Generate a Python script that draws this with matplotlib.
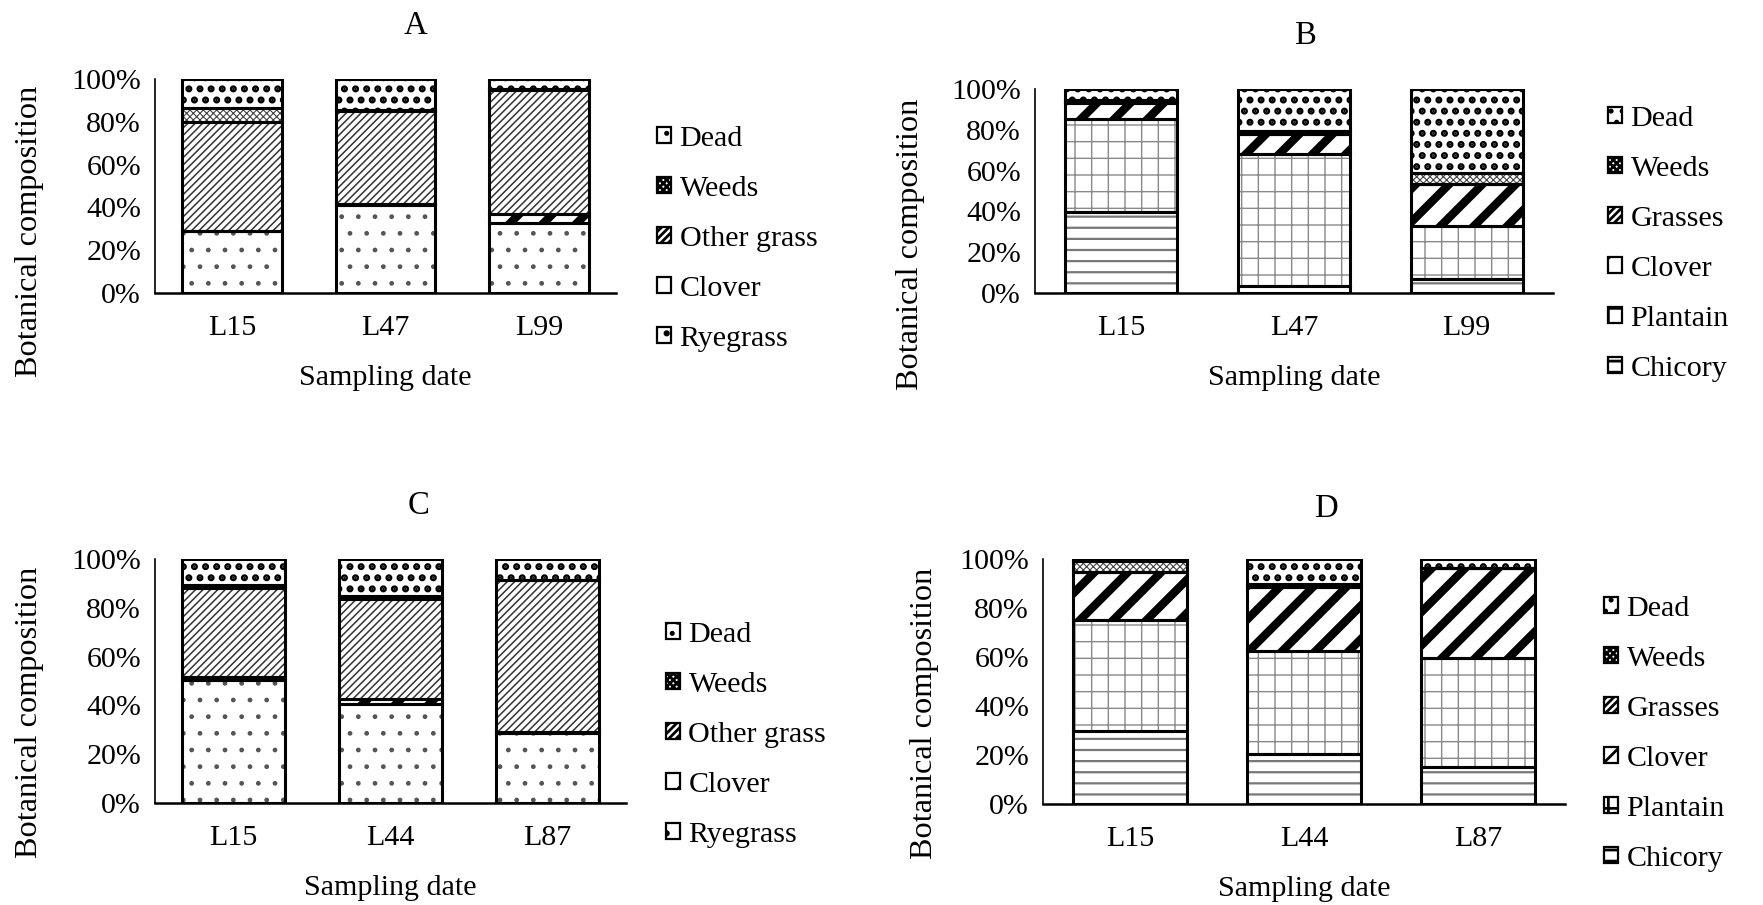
import numpy as np
import matplotlib.pyplot as plt
from matplotlib.patches import Patch
from matplotlib.ticker import PercentFormatter

plt.rcParams['font.family'] = ['Liberation Serif', 'DejaVu Serif']
plt.rcParams['font.size'] = 10.8

# ---- data (% of botanical composition) ----
dates_a = ['L15', 'L47', 'L99']
ryegrass_a = [29.0, 41.0, 32.5]
clover_a = [0.0, 0.5, 4.5]
other_grass_a = [51.0, 43.5, 58.0]
weeds_a = [6.5, 0.5, 0.5]
dead_a = [13.5, 14.5, 4.5]

dates_b = ['L15', 'L47', 'L99']
chicory_b = [39.5, 3.5, 7.0]
plantain_b = [46.0, 64.5, 26.0]
clover_b = [7.5, 10.0, 20.5]
grasses_b = [0.5, 0.0, 0.0]
weeds_b = [1.0, 1.5, 5.5]
dead_b = [5.5, 20.5, 41.0]

dates_c = ['L15', 'L44', 'L87']
ryegrass_c = [50.5, 40.5, 28.5]
clover_c = [1.0, 2.0, 0.5]
other_grass_c = [36.5, 41.0, 62.5]
weeds_c = [1.5, 1.5, 0.0]
dead_c = [10.5, 15.0, 8.5]

dates_d = ['L15', 'L44', 'L87']
chicory_d = [30.0, 20.5, 15.0]
plantain_d = [45.0, 42.0, 44.5]
clover_d = [19.5, 26.0, 37.0]
grasses_d = [0.0, 0.0, 0.0]
weeds_d = [4.5, 1.5, 0.0]
dead_d = [1.0, 10.0, 3.5]

names_grass = ['Ryegrass', 'Clover', 'Other grass', 'Weeds', 'Dead']
names_herb = ['Chicory', 'Plantain', 'Clover', 'Grasses', 'Weeds', 'Dead']

# hatch, hatch colour, hatch line width
styles = {
    'Dead': ('...', 'black', 1.7),
    'Weeds': ('x' * 10, '#444444', 0.4),
    'Other grass': ('/' * 9, '#333333', 0.55),
    'Grasses': ('/' * 9, '#333333', 0.55),
    'Clover': ('//', 'black', 3.0),
    'Ryegrass': ('..', '#555555', 0.5),
    'Plantain': ('++', '#8a8a8a', 0.5),
    'Chicory': ('---', '#777777', 0.8),
}


def set_hatch_lw(patches, lw):
    for p in patches:
        if hasattr(p, 'set_hatch_linewidth'):
            p.set_hatch_linewidth(lw)


def stacked(ax, dates, names, series, ylabelpad, ylabel_y):
    x = np.arange(len(dates))
    width = 0.65
    bottom = np.zeros(len(dates))
    for name, vals in zip(names, series):
        vals = np.asarray(vals) / 100
        hatch, hc, hlw = styles[name]
        with plt.rc_context({'hatch.linewidth': hlw}):
            bars = ax.bar(x, vals, width, bottom=bottom, color='white',
                          edgecolor=hc, linewidth=0, hatch=hatch, zorder=1)
        set_hatch_lw(bars, hlw)
        ax.bar(x, vals, width, bottom=bottom, fill=False,
               edgecolor='black', linewidth=1.1, zorder=2)
        bottom += vals

    ax.set_xlim(-0.5, len(dates) - 0.5)
    ax.set_ylim(0, 1)
    ax.set_yticks(np.linspace(0, 1, 6))
    ax.yaxis.set_major_formatter(PercentFormatter(1.0, decimals=0))
    ax.set_xticks(x, dates)
    ax.tick_params(length=0)
    ax.tick_params(axis='y', pad=5)
    ax.tick_params(axis='x', pad=8)
    for s in ['top', 'right']:
        ax.spines[s].set_visible(False)
    ax.spines['left'].set_linewidth(0.6)
    ax.spines['bottom'].set_linewidth(0.9)
    ax.set_xlabel('Sampling date', labelpad=8.5)
    ax.set_ylabel('Botanical composition', labelpad=ylabelpad, fontsize=11.6)
    ax.yaxis.label.set_y(ylabel_y)


def legend(fig, names, anchor):
    handles = []
    for name in names[::-1]:
        hatch = styles[name][0]
        handles.append(Patch(facecolor='white', edgecolor='black',
                             hatch=hatch, linewidth=0.8, label=name))
    fig.legend(handles=handles, loc='center left', bbox_to_anchor=anchor,
               frameon=False, handlelength=0.45, handleheight=0.45,
               handletextpad=0.3, labelspacing=0.8, borderpad=0,
               borderaxespad=0)


W, H = 1763, 905
fig = plt.figure(figsize=(W / 200, H / 200), dpi=200)

ax_a = fig.add_axes([155 / W, 1 - 293 / H, 461 / W, 214 / H])
stacked(ax_a, dates_a, names_grass,
        [ryegrass_a, clover_a, other_grass_a, weeds_a, dead_a], 10, 0.29)
legend(fig, names_grass, (657 / W, 1 - 239 / H))
fig.text(416 / W, 1 - 26 / H, 'A', ha='center', va='center', fontsize=11.8)

ax_b = fig.add_axes([1035 / W, 1 - 293 / H, 518 / W, 204 / H])
stacked(ax_b, dates_b, names_herb,
        [chicory_b, plantain_b, clover_b, grasses_b, weeds_b, dead_b], 9.5, 0.24)
legend(fig, names_herb, (1608 / W, 1 - 244 / H))
fig.text(1306 / W, 1 - 36 / H, 'B', ha='center', va='center', fontsize=11.8)

ax_c = fig.add_axes([155 / W, 1 - 803 / H, 471 / W, 244 / H])
stacked(ax_c, dates_c, names_grass,
        [ryegrass_c, clover_c, other_grass_c, weeds_c, dead_c], 10, 0.37)
legend(fig, names_grass, (666 / W, 1 - 735 / H))
fig.text(419 / W, 1 - 506 / H, 'C', ha='center', va='center', fontsize=11.8)

ax_d = fig.add_axes([1043 / W, 1 - 804 / H, 522 / W, 245 / H])
stacked(ax_d, dates_d, names_herb,
        [chicory_d, plantain_d, clover_d, grasses_d, weeds_d, dead_d], 7.5, 0.37)
legend(fig, names_herb, (1604 / W, 1 - 734 / H))
fig.text(1327 / W, 1 - 509 / H, 'D', ha='center', va='center', fontsize=11.8)

fig.savefig('out.png', dpi=200, facecolor='white')
